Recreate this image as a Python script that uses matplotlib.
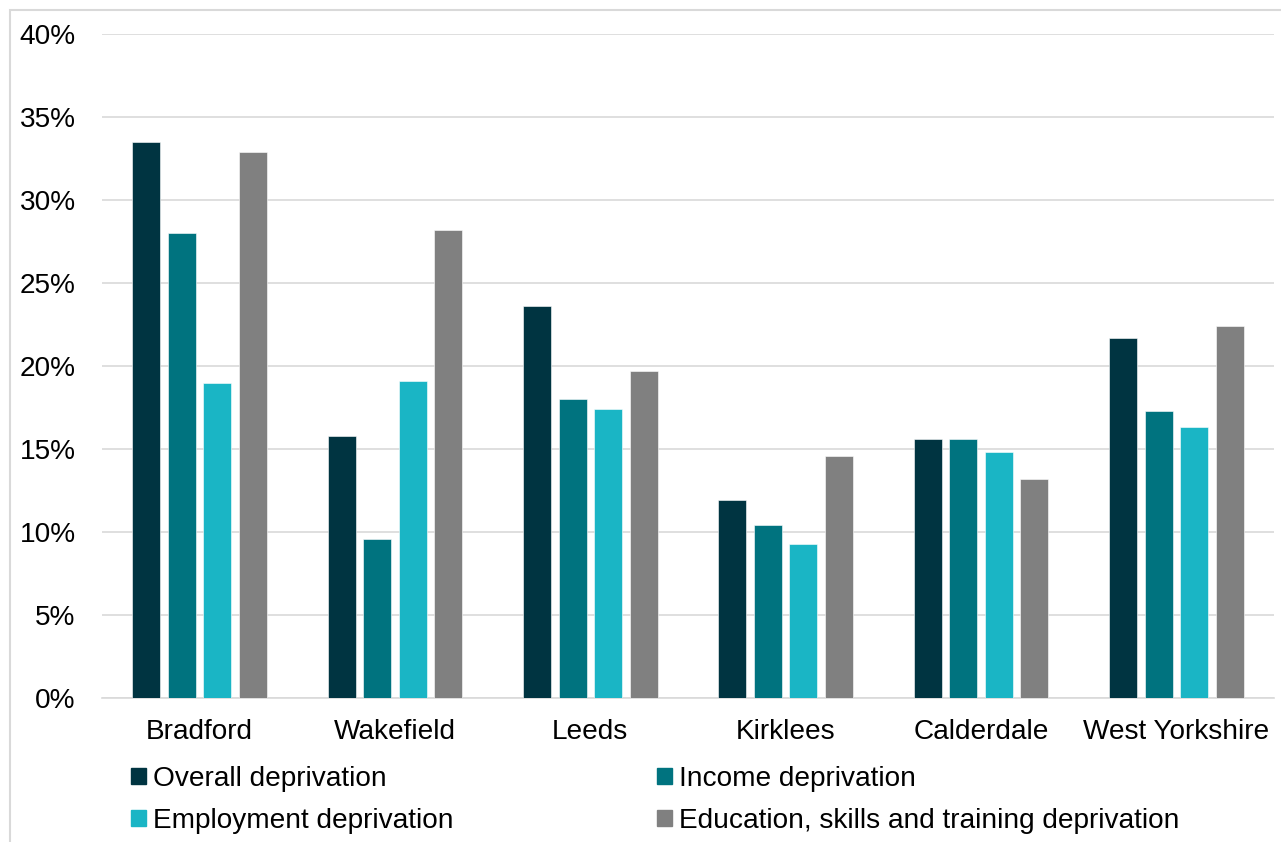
import numpy as np
import matplotlib.pyplot as plt
from matplotlib.patches import Patch, Rectangle

areas = ['Bradford', 'Wakefield', 'Leeds', 'Kirklees', 'Calderdale', 'West Yorkshire']
overall = [33.5, 15.8, 23.6, 11.9, 15.6, 21.7]
income = [28.0, 9.6, 18.0, 10.4, 15.6, 17.3]
employment = [19.0, 19.1, 17.4, 9.3, 14.8, 16.3]
education = [32.9, 28.2, 19.7, 14.6, 13.2, 22.4]

series = [
    ('Overall deprivation', overall, '#003441'),
    ('Income deprivation', income, '#00737F'),
    ('Employment deprivation', employment, '#1AB5C5'),
    ('Education, skills and training deprivation', education, '#808080'),
]

plt.rcParams['font.family'] = ['Liberation Sans', 'DejaVu Sans']
fs = 20.2

fig = plt.figure(figsize=(12.81, 8.42), dpi=100)
ax = fig.add_axes([0.0796, 0.171, 0.915, 0.7886])

# light frame around the chart area
fig.patches.append(Rectangle((10 / 1281, -0.1), 1.1, 0.988 + 0.1,
                             transform=fig.transFigure, fill=False,
                             edgecolor='#D9D9D9', linewidth=1.5))

x = np.arange(len(areas))
step = 0.1818
width = 0.143
for i, (name, vals, col) in enumerate(series):
    ax.bar(x + (i - 1.5) * step, vals, width, color=col, label=name,
           edgecolor='white', linewidth=0.4, zorder=3)

ax.set_xlim(-0.5, len(areas) - 0.5)
ax.set_ylim(0, 40)
ax.set_yticks(range(0, 41, 5))
ax.set_yticklabels([f'{v}%' for v in range(0, 41, 5)])
ax.set_xticks(x)
ax.set_xticklabels(areas)
ax.tick_params(axis='y', length=0, pad=19, labelsize=fs)
ax.tick_params(axis='x', length=0, pad=15, labelsize=fs)
ax.grid(axis='y', color='#D9D9D9', linewidth=1.2, zorder=0)
for s in ['top', 'right', 'left']:
    ax.spines[s].set_visible(False)
ax.spines['bottom'].set_color('#D9D9D9')
ax.spines['bottom'].set_linewidth(1.2)

order = [0, 2, 1, 3]
handles = [Patch(color=series[k][2]) for k in order]
labels = [series[k][0] for k in order]
fig.legend(handles, labels, ncol=2, loc='upper left',
           bbox_to_anchor=(131 / 1281, 1 - 766 / 842),
           frameon=False, fontsize=fs, handlelength=0.53, handleheight=0.53,
           handletextpad=0.25, columnspacing=7.25, labelspacing=0.56,
           borderpad=0, borderaxespad=0)

fig.savefig('out.png', dpi=100)
